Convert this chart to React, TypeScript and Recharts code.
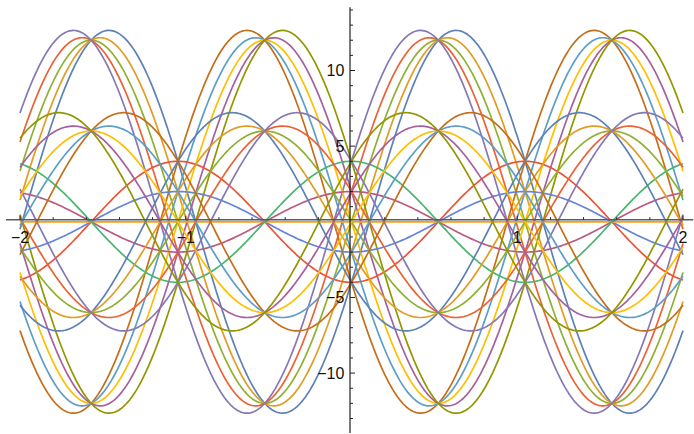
import React from 'react';
import { LineChart, Line, XAxis, YAxis, ReferenceLine, ReferenceDot } from 'recharts';

// Curves: a*sin(3x) + b*cos(3x), one curve per (a, b) pair, a outer, b inner
const SIN_COEFS = [12, -12, 0, -6, 6];
const COS_COEFS = [-4, -2, 0, 2, 4];
const FREQUENCY = 3;
const X_START = -2;
const X_END = 2;

const COLORS = [
  ['#5E81B5', '#E19C24', '#8FB032', '#EB6235', '#8778B3'],
  ['#C56E1A', '#5D9EC7', '#FFBF00', '#A5609D', '#929600'],
  ['#E95536', '#6685D9', '#F89F13', '#BC5B80', '#47B66D'],
  ['#5E81B5', '#E19C24', '#8FB032', '#EB6235', '#8778B3'],
  ['#C56E1A', '#5D9EC7', '#FFBF00', '#A5609D', '#929600'],
];

const X_MAJOR_TICKS = [-2, -1, 1, 2];
const X_TICK_LABELS = ['\u22122', '\u22121', '1', '2'];
const X_MINOR_TICKS = [-1.8, -1.6, -1.4, -1.2, -0.8, -0.6, -0.4, -0.2, 0.2, 0.4, 0.6, 0.8, 1.2, 1.4, 1.6, 1.8];
const Y_MAJOR_TICKS = [-10, -5, 5, 10];
const Y_TICK_LABELS = ['\u221210', '\u22125', '5', '10'];
const Y_MINOR_TICKS = [-13, -12, -11, -9, -8, -7, -6, -4, -3, -2, -1, 1, 2, 3, 4, 6, 7, 8, 9, 11, 12, 13, 14];

const X_DOMAIN: [number, number] = [-2.0845, 2.0663];
const Y_DOMAIN: [number, number] = [-14.025, 14.197];
const X_AXIS_Y = 0.14;
const Y_AXIS_X = -0.009;

const PX_X = 165.75;
const PX_Y = 15.13;

const N = 400;
const data: Record<string, number>[] = [];
for (let i = 0; i <= N; i++) {
  const x = X_START + ((X_END - X_START) * i) / N;
  const row: Record<string, number> = { x };
  SIN_COEFS.forEach((a, ai) => {
    COS_COEFS.forEach((b, bi) => {
      row[`c${ai}_${bi}`] = a * Math.sin(FREQUENCY * x) + b * Math.cos(FREQUENCY * x);
    });
  });
  data.push(row);
}

const FONT = '"Liberation Sans", Arial, sans-serif';

export default function App() {
  const lines: React.ReactNode[] = [];
  SIN_COEFS.forEach((_, ai) => {
    COS_COEFS.forEach((__, bi) => {
      lines.push(
        <Line
          key={`c${ai}_${bi}`}
          dataKey={`c${ai}_${bi}`}
          stroke={COLORS[ai][bi]}
          strokeWidth={1.7}
          dot={false}
          activeDot={false}
          type="linear"
          isAnimationActive={false}
        />
      );
    });
  });

  return (
    <div style={{ position: 'absolute', left: 0, top: 0, width: 694, height: 434, background: '#fff' }}>
      <LineChart width={694} height={434} data={data} margin={{ top: 7, right: 0, bottom: 0, left: 6 }}>
        <XAxis type="number" dataKey="x" domain={X_DOMAIN} hide allowDataOverflow />
        <YAxis type="number" domain={Y_DOMAIN} hide allowDataOverflow />
        {lines}
        <ReferenceLine
          segment={[{ x: -2.0845, y: X_AXIS_Y }, { x: 2.062, y: X_AXIS_Y }]}
          stroke="#5c5c5c"
          strokeWidth={1.6}
          ifOverflow="visible"
        />
        <ReferenceLine
          segment={[{ x: Y_AXIS_X, y: -13.96 }, { x: Y_AXIS_X, y: 14.18 }]}
          stroke="#222"
          strokeWidth={1.2}
          ifOverflow="visible"
        />
        {X_MAJOR_TICKS.map((t) => (
          <ReferenceLine
            key={`xM${t}`}
            segment={[{ x: t, y: X_AXIS_Y }, { x: t, y: X_AXIS_Y + 4 / PX_Y }]}
            stroke="#222"
            strokeWidth={1}
            ifOverflow="visible"
          />
        ))}
        {X_MINOR_TICKS.map((t) => (
          <ReferenceLine
            key={`xm${t}`}
            segment={[{ x: t, y: X_AXIS_Y }, { x: t, y: X_AXIS_Y + 2.5 / PX_Y }]}
            stroke="#222"
            strokeWidth={1}
            ifOverflow="visible"
          />
        ))}
        {Y_MAJOR_TICKS.map((t) => (
          <ReferenceLine
            key={`yM${t}`}
            segment={[{ x: Y_AXIS_X, y: t }, { x: Y_AXIS_X + 5 / PX_X, y: t }]}
            stroke="#222"
            strokeWidth={1}
            ifOverflow="visible"
          />
        ))}
        {Y_MINOR_TICKS.map((t) => (
          <ReferenceLine
            key={`ym${t}`}
            segment={[{ x: Y_AXIS_X, y: t }, { x: Y_AXIS_X + 3 / PX_X, y: t }]}
            stroke="#222"
            strokeWidth={1}
            ifOverflow="visible"
          />
        ))}
        {X_MAJOR_TICKS.map((t, i) => (
          <ReferenceDot
            key={`xl${t}`}
            x={t}
            y={0}
            r={0}
            ifOverflow="visible"
            shape={(p: any) => (
              <text
                x={p.cx}
                y={p.cy + 21.5}
                textAnchor="middle"
                fontFamily={FONT}
                fontSize={16}
                fill="#111"
              >
                {X_TICK_LABELS[i]}
              </text>
            )}
          />
        ))}
        {Y_MAJOR_TICKS.map((t, i) => (
          <ReferenceDot
            key={`yl${t}`}
            x={0}
            y={t}
            r={0}
            ifOverflow="visible"
            shape={(p: any) => (
              <text
                x={p.cx - 7.2}
                y={p.cy + 5.8}
                textAnchor="end"
                fontFamily={FONT}
                fontSize={16}
                fill="#111"
              >
                {Y_TICK_LABELS[i]}
              </text>
            )}
          />
        ))}
      </LineChart>
    </div>
  );
}
